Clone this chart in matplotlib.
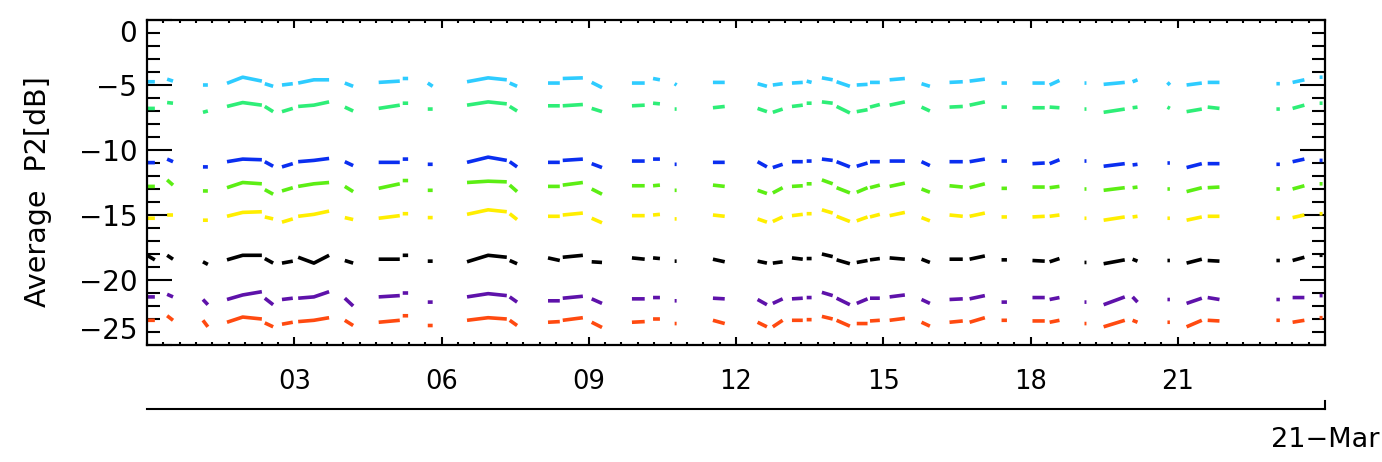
import numpy as np
import matplotlib
matplotlib.use("Agg")
import matplotlib.pyplot as plt
from matplotlib.lines import Line2D
from matplotlib.ticker import MultipleLocator

# ---- data: hours of day on 21-Mar, each tuple is one recorded segment ----
seg_hours = [
    (0.00, 0.16), (0.41, 0.53), (1.14, 1.24), (1.63, 1.95, 2.34), (2.40, 2.57),
    (2.75, 2.97), (3.08, 3.40, 3.71), (4.03, 4.20), (4.72, 5.15), (5.21, 5.32),
    (5.72, 5.82), (6.52, 6.95, 7.33), (7.39, 7.54), (8.17, 8.41), (8.47, 8.88),
    (9.06, 9.27), (9.88, 10.14), (10.31, 10.45), (10.75, 10.79), (11.53, 11.77),
    (12.44, 12.63), (12.75, 12.95), (13.14, 13.36), (13.44, 13.54), (13.75, 13.97),
    (14.05, 14.32), (14.46, 14.68), (14.73, 14.93), (15.13, 15.44), (15.78, 15.95),
    (16.35, 16.62), (16.76, 17.07), (17.41, 17.52), (18.04, 18.29), (18.39, 18.59),
    (19.10, 19.14), (19.49, 19.92), (20.08, 20.18), (20.79, 20.84), (21.18, 21.49),
    (21.61, 21.85), (23.01, 23.08), (23.34, 23.58), (23.89, 23.95),
]

cyan_vals = [
    (-4.75, -4.75), (-4.55, -4.70), (-5.0, -5.0), (-4.87, -4.40, -4.70), (-4.9, -5.1),
    (-5.0, -4.9), (-4.85, -4.6, -4.6), (-4.85, -5.1), (-4.8, -4.7), (-4.5, -4.5),
    (-4.85, -5.1), (-4.75, -4.45, -4.6), (-4.85, -5.1), (-4.85, -4.85), (-4.5, -4.45),
    (-4.8, -5.2), (-4.85, -4.85), (-4.5, -4.6), (-4.9, -5.0), (-4.8, -4.8),
    (-4.9, -5.1), (-5.0, -4.9), (-4.85, -4.8), (-4.7, -4.8), (-4.45, -4.6),
    (-4.75, -5.1), (-5.0, -4.95), (-4.8, -4.8), (-4.6, -4.5), (-4.9, -5.1),
    (-4.8, -4.75), (-4.7, -4.55), (-4.85, -4.85), (-4.85, -4.85), (-5.0, -4.65),
    (-4.85, -4.85), (-4.95, -4.8), (-4.75, -4.6), (-4.8, -5.0), (-5.0, -4.85),
    (-4.8, -4.8), (-4.9, -4.9), (-4.8, -4.6), (-4.4, -4.4),
]
green_vals = [
    (-6.8, -6.8), (-6.35, -6.4), (-7.1, -7.0), (-6.65, -6.35, -6.55), (-6.65, -7.05),
    (-7.05, -6.8), (-6.65, -6.55, -6.3), (-6.7, -7.0), (-6.8, -6.55), (-6.4, -6.4),
    (-6.85, -6.85), (-6.55, -6.3, -6.45), (-6.65, -7.0), (-6.6, -6.6), (-6.6, -6.5),
    (-6.8, -7.05), (-6.6, -6.55), (-6.4, -6.45), (-6.85, -6.85), (-6.75, -6.65),
    (-6.8, -7.05), (-7.1, -6.85), (-6.65, -6.55), (-6.4, -6.4), (-6.3, -6.4),
    (-6.65, -7.15), (-7.05, -6.9), (-6.7, -6.5), (-6.55, -6.3), (-6.7, -7.0),
    (-6.7, -6.65), (-6.55, -6.3), (-6.7, -6.7), (-6.75, -6.75), (-6.7, -6.75),
    (-6.85, -6.85), (-7.1, -6.85), (-6.75, -6.7), (-6.7, -6.8), (-7.05, -6.85),
    (-6.7, -6.8), (-6.85, -6.85), (-6.8, -6.55), (-6.4, -6.4),
]
blue_vals = [
    (-10.97, -10.97), (-10.7, -10.9), (-11.3, -11.3), (-10.9, -10.7, -10.75), (-10.9, -11.25),
    (-11.3, -11.05), (-10.9, -10.8, -10.65), (-10.9, -11.2), (-10.95, -10.95), (-10.7, -10.7),
    (-11.1, -11.1), (-10.95, -10.55, -10.8), (-10.9, -11.3), (-10.95, -10.95), (-10.8, -10.7),
    (-11.05, -11.35), (-10.85, -10.85), (-10.7, -10.7), (-11.1, -11.1), (-10.95, -10.95),
    (-10.9, -11.3), (-11.35, -11.1), (-10.9, -10.9), (-10.85, -10.85), (-10.7, -10.8),
    (-10.9, -11.3), (-11.25, -11.0), (-10.9, -10.9), (-10.85, -10.85), (-10.9, -11.2),
    (-10.9, -10.9), (-10.9, -10.7), (-10.85, -10.85), (-11.05, -11.0), (-11.05, -10.75),
    (-10.85, -10.85), (-11.25, -11.05), (-11.15, -11.1), (-11.0, -11.0), (-11.35, -11.05),
    (-11.05, -11.05), (-11.1, -11.1), (-10.9, -10.7), (-10.8, -10.8),
]
lime_vals = [
    (-12.8, -12.8), (-12.3, -12.7), (-13.15, -13.15), (-12.9, -12.5, -12.6), (-13.05, -13.4),
    (-13.15, -12.9), (-12.8, -12.6, -12.5), (-12.8, -13.2), (-12.95, -12.6), (-12.35, -12.35),
    (-13.1, -13.1), (-12.5, -12.4, -12.45), (-12.7, -13.2), (-12.8, -12.8), (-12.7, -12.5),
    (-13.0, -13.4), (-12.75, -12.75), (-12.75, -12.7), (-13.1, -13.1), (-12.7, -12.8),
    (-13.1, -13.35), (-13.3, -12.9), (-12.8, -12.75), (-12.6, -12.6), (-12.3, -12.6),
    (-12.9, -13.3), (-13.25, -12.9), (-12.9, -12.7), (-12.8, -12.55), (-13.0, -13.25),
    (-12.75, -12.85), (-12.9, -12.6), (-12.95, -12.95), (-12.85, -12.85), (-12.9, -12.8),
    (-13.0, -13.0), (-13.1, -12.9), (-12.9, -12.85), (-13.0, -13.0), (-13.2, -12.9),
    (-12.9, -12.85), (-13.0, -13.0), (-13.0, -12.75), (-12.6, -12.6),
]
yellow_vals = [
    (-15.25, -15.25), (-15.0, -15.0), (-15.4, -15.4), (-15.1, -14.8, -14.75), (-15.15, -15.3),
    (-15.55, -15.3), (-15.1, -14.95, -14.7), (-15.2, -15.35), (-15.25, -15.05), (-14.9, -14.9),
    (-15.2, -15.2), (-14.95, -14.6, -14.75), (-14.9, -15.35), (-15.1, -15.1), (-15.0, -14.85),
    (-15.25, -15.6), (-15.05, -15.05), (-15.0, -14.95), (-15.3, -15.3), (-15.0, -15.1),
    (-15.3, -15.55), (-15.5, -15.15), (-15.05, -14.95), (-14.9, -14.9), (-14.6, -14.85),
    (-15.1, -15.5), (-15.45, -15.15), (-15.15, -14.95), (-15.05, -14.8), (-15.2, -15.45),
    (-15.0, -15.1), (-15.1, -14.85), (-15.15, -15.15), (-15.15, -15.1), (-15.1, -15.0),
    (-15.25, -15.25), (-15.4, -15.15), (-15.15, -15.1), (-15.25, -15.25), (-15.4, -15.15),
    (-15.1, -15.1), (-15.25, -15.25), (-15.2, -15.0), (-14.9, -14.9),
]
black_vals = [
    (-18.1, -18.45), (-18.1, -18.4), (-18.6, -18.8), (-18.45, -18.1, -18.1), (-18.35, -18.7),
    (-18.7, -18.55), (-18.25, -18.7, -18.1), (-18.5, -18.7), (-18.4, -18.4), (-18.1, -18.1),
    (-18.55, -18.55), (-18.6, -18.1, -18.25), (-18.5, -18.75), (-18.3, -18.5), (-18.25, -18.1),
    (-18.6, -18.65), (-18.3, -18.4), (-18.3, -18.35), (-18.55, -18.55), (-18.4, -18.6),
    (-18.55, -18.7), (-18.7, -18.6), (-18.3, -18.4), (-18.35, -18.35), (-18.0, -18.2),
    (-18.45, -18.75), (-18.65, -18.5), (-18.45, -18.35), (-18.3, -18.4), (-18.4, -18.65),
    (-18.4, -18.4), (-18.4, -18.15), (-18.45, -18.45), (-18.5, -18.55), (-18.6, -18.35),
    (-18.65, -18.65), (-18.75, -18.45), (-18.4, -18.55), (-18.5, -18.5), (-18.7, -18.4),
    (-18.5, -18.55), (-18.5, -18.5), (-18.5, -18.25), (-18.1, -18.1),
]
purple_vals = [
    (-21.3, -21.3), (-21.1, -21.3), (-21.5, -21.9), (-21.5, -21.15, -20.9), (-21.4, -21.9),
    (-21.5, -21.4), (-21.4, -21.3, -20.9), (-21.4, -22.0), (-21.3, -21.2), (-21.0, -21.0),
    (-21.7, -21.7), (-21.3, -21.05, -21.2), (-21.3, -21.7), (-21.6, -21.6), (-21.4, -21.25),
    (-21.45, -21.8), (-21.45, -21.45), (-21.35, -21.35), (-21.6, -21.6), (-21.4, -21.45),
    (-21.5, -21.9), (-21.8, -21.45), (-21.45, -21.4), (-21.35, -21.35), (-20.95, -21.2),
    (-21.4, -21.9), (-21.8, -21.45), (-21.4, -21.4), (-21.3, -21.15), (-21.5, -21.8),
    (-21.5, -21.45), (-21.45, -21.2), (-21.7, -21.7), (-21.35, -21.35), (-21.5, -21.35),
    (-21.7, -21.7), (-21.9, -21.3), (-21.3, -21.7), (-21.5, -21.5), (-21.8, -21.4),
    (-21.35, -21.5), (-21.5, -21.5), (-21.35, -21.35), (-21.2, -21.2),
]
orange_vals = [
    (-23.1, -23.1), (-22.75, -23.1), (-23.1, -23.6), (-23.25, -22.85, -23.0), (-23.3, -23.6),
    (-23.4, -23.25), (-23.2, -23.1, -22.9), (-23.1, -23.5), (-23.25, -23.1), (-22.75, -22.75),
    (-23.5, -23.5), (-23.1, -22.9, -23.0), (-23.1, -23.5), (-23.25, -23.2), (-23.1, -22.9),
    (-23.25, -23.65), (-23.25, -23.2), (-23.0, -23.0), (-23.35, -23.35), (-23.1, -23.35),
    (-23.25, -23.6), (-23.6, -23.1), (-23.1, -23.1), (-23.05, -23.05), (-22.8, -23.0),
    (-23.1, -23.55), (-23.35, -23.35), (-23.15, -23.1), (-23.1, -22.95), (-23.25, -23.55),
    (-23.25, -23.15), (-23.25, -22.9), (-23.1, -23.1), (-23.15, -23.15), (-23.25, -23.1),
    (-23.35, -23.35), (-23.6, -23.1), (-23.1, -23.25), (-23.25, -23.25), (-23.6, -23.1),
    (-23.1, -23.15), (-23.1, -23.1), (-23.25, -23.1), (-22.9, -22.9),
]

series = [
    (cyan_vals, "#2ECCFF"),
    (green_vals, "#2EEE77"),
    (blue_vals, "#0A2EF0"),
    (lime_vals, "#5CEE14"),
    (yellow_vals, "#FFEE00"),
    (black_vals, "#000000"),
    (purple_vals, "#5E12AA"),
    (orange_vals, "#FF4A10"),
]

x_tick_pos = [3, 6, 9, 12, 15, 18, 21]
x_tick_labels = ["03", "06", "09", "12", "15", "18", "21"]
y_tick_pos = [0, -5, -10, -15, -20, -25]
y_tick_labels = ["0", "\u22125", "\u221210", "\u221215", "\u221220", "\u221225"]
date_label = "21\u2212Mar"
y_title = "Average  P2[dB]"

# ---- figure ----
W, H = 1382, 462
plt.rcParams["font.family"] = ["DejaVu Sans"]
fig = plt.figure(figsize=(W / 100, H / 100), dpi=100)
ax = fig.add_axes([147 / W, 1 - 345 / H, (1325 - 147) / W, (345 - 20) / H])

for vals, col in series:
    xs, ys = [], []
    for t, v in zip(seg_hours, vals):
        xs.extend(t)
        ys.extend(v)
        xs.append(np.nan)
        ys.append(np.nan)
    ax.plot(xs, ys, color=col, lw=2.6, solid_capstyle="butt")

ax.set_xlim(0, 24)
ax.set_ylim(-25, 0)

for s in ax.spines.values():
    s.set_linewidth(1.6)

ax.set_xticks(x_tick_pos)
ax.set_xticklabels(x_tick_labels, fontsize=18.5)
ax.xaxis.set_minor_locator(MultipleLocator(1 / 3))
ax.set_yticks(y_tick_pos)
ax.set_yticklabels(y_tick_labels, fontsize=20)
ax.yaxis.set_minor_locator(MultipleLocator(1))

ax.tick_params(axis="both", which="both", direction="in", top=True, right=True,
               width=1.5, color="black")
ax.tick_params(axis="y", which="major", length=18, pad=7)
ax.tick_params(axis="y", which="minor", length=9.5)
ax.tick_params(axis="x", which="major", length=6, pad=17)
ax.tick_params(axis="x", which="minor", length=2.5)

for lab in ax.get_yticklabels():
    if lab.get_text() == "0":
        lab.set_va("top")
    elif lab.get_text() == "\u221225":
        lab.set_va("bottom")

# secondary date axis line below
xl, xr = 147 / W, 1325 / W
yl = 1 - 409 / H
fig.add_artist(Line2D([xl, xr], [yl, yl], transform=fig.transFigure, color="black", lw=1.5))
fig.add_artist(Line2D([xr, xr], [yl, 1 - 401 / H], transform=fig.transFigure, color="black", lw=1.5))
fig.text(0.998, 1 - 440 / H, date_label, ha="right", va="center", fontsize=19.5)

fig.text(38 / W, 1 - 192 / H, y_title, rotation=90, ha="center", va="center", fontsize=20.5)

fig.savefig("out.png", dpi=100, facecolor="white")
